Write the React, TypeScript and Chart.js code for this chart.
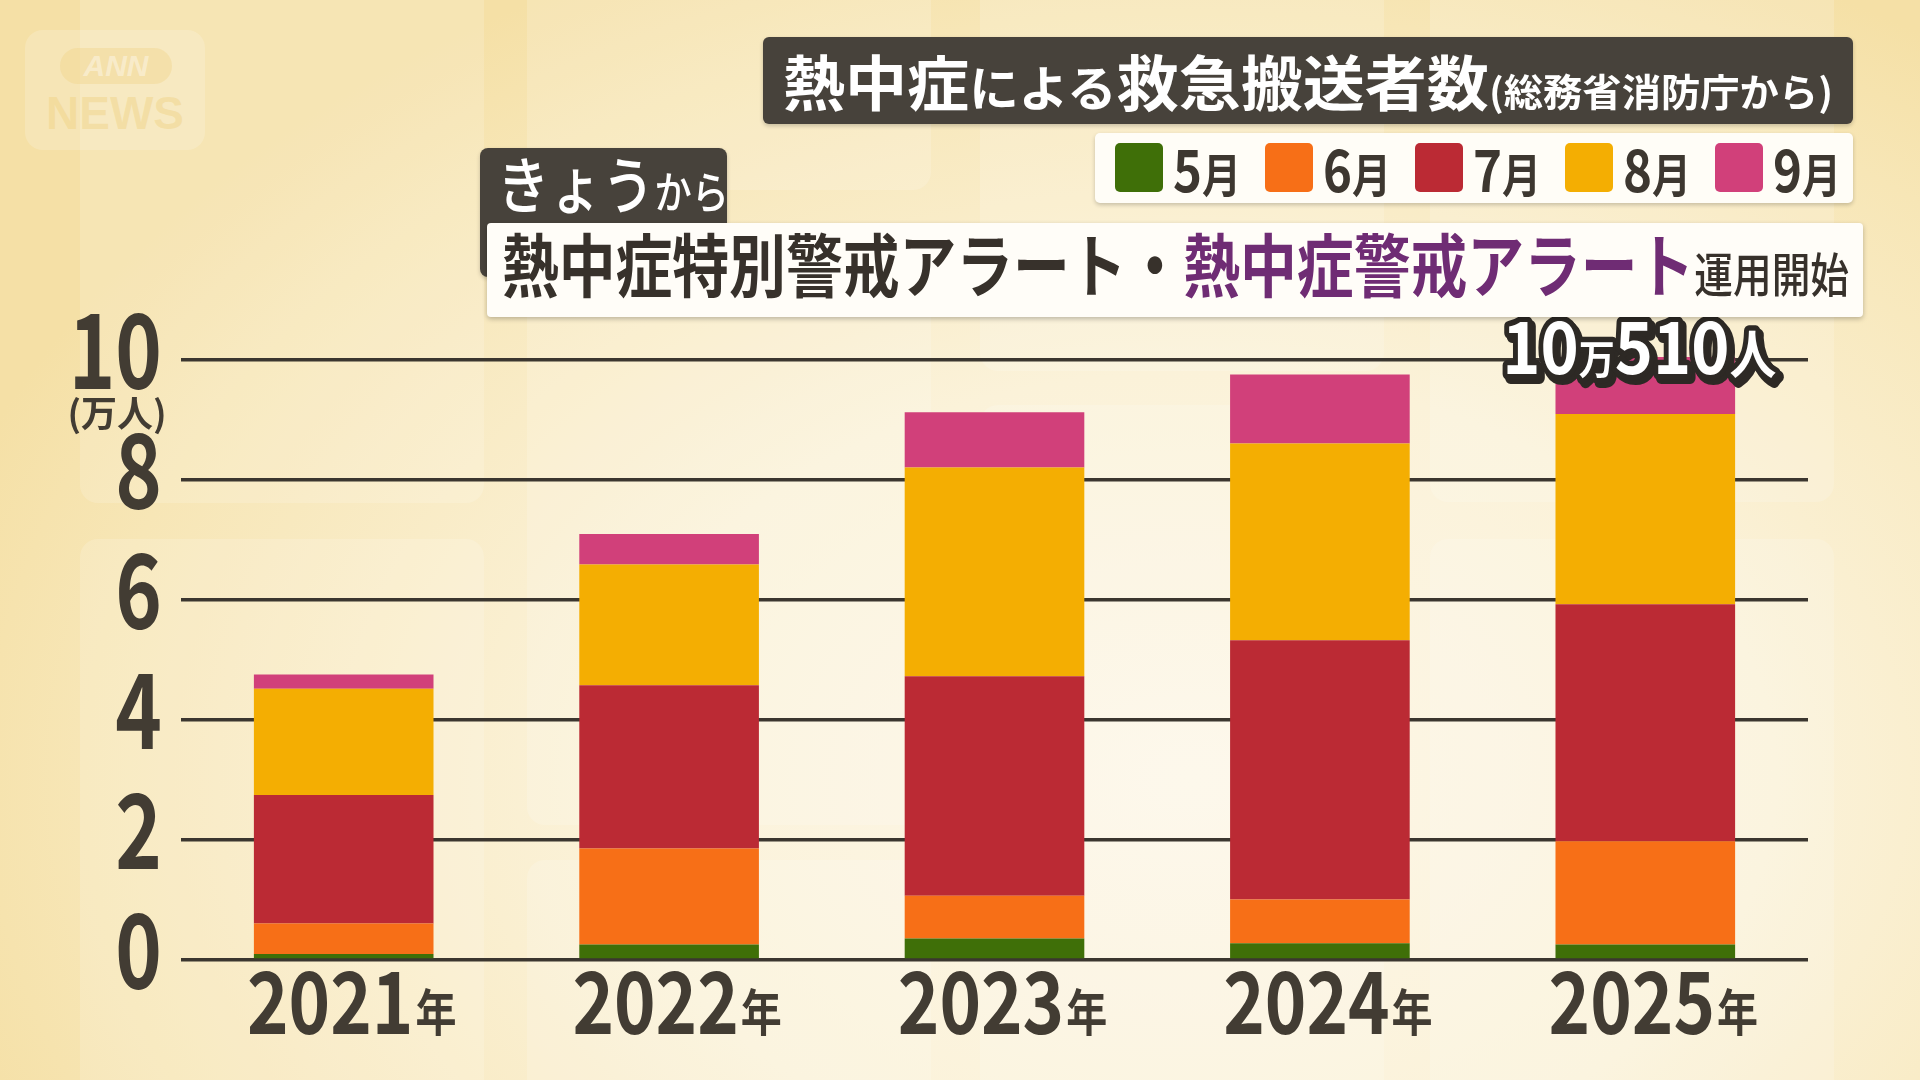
import React, { useEffect, useLayoutEffect, useRef } from "react";
import { Chart, registerables } from "chart.js";

Chart.register(...registerables);

const FONT = '"Noto Sans CJK JP", "Noto Sans", sans-serif';

// ---- data ----
const years = ["2021", "2022", "2023", "2024", "2025"];
const yearSuffix = "年";
const months = ["5月", "6月", "7月", "8月", "9月"];
const monthColors = ["#3f6f08", "#f76f17", "#bb2a34", "#f4ae02", "#d1407a"];
// 万人
const may = [0.1, 0.26, 0.36, 0.28, 0.26];
const june = [0.51, 1.6, 0.71, 0.73, 1.72];
const july = [2.14, 2.72, 3.66, 4.32, 3.95];
const august = [1.77, 2.01, 3.48, 3.28, 3.17];
const september = [0.24, 0.51, 0.92, 1.15, 0.95];
const seriesValues = [may, june, july, august, september];
const yTicks = [0, 2, 4, 6, 8, 10];
const yUnit = "(万人)";
const latestTotalPeople = 100510;

// ---- texts ----
const titleParts: [string, number, number][] = [
  ["熱中症", 60, 700],
  ["による", 48, 700],
  ["救急搬送者数", 60, 700],
  ["(総務省消防庁から)", 38, 700],
];
const tagParts: [string, number][] = [
  ["きょう", 62],
  ["から", 44],
];
const bannerParts: [string, number, string, number][] = [
  ["熱中症特別警戒アラート・", 69, "#37312b", 700],
  ["熱中症警戒アラート", 69, "#6f2c74", 700],
  ["運用開始", 47, "#37312b", 500],
];

const DARK = "#47423b";
const INK = "#423c33";

function drawText(
  ctx: CanvasRenderingContext2D,
  text: string,
  x: number,
  y: number,
  font: string,
  sx: number,
  align: CanvasTextAlign,
  mode: "fill" | "stroke" = "fill"
) {
  ctx.save();
  ctx.font = font;
  ctx.textAlign = align;
  ctx.textBaseline = "alphabetic";
  ctx.translate(x, y);
  ctx.scale(sx, 1);
  if (mode === "fill") ctx.fillText(text, 0, 0);
  else ctx.strokeText(text, 0, 0);
  ctx.restore();
}

const labelPlugin = {
  id: "customLabels",
  afterDraw(chart: any) {
    const ctx: CanvasRenderingContext2D = chart.ctx;
    const xs = chart.scales.x;
    const ys = chart.scales.y;
    ctx.save();
    ctx.fillStyle = INK;
    // y tick labels
    const yFont = `bold 104px ${FONT}`;
    yTicks.forEach((v) => {
      const py = ys.getPixelForValue(v);
      drawText(ctx, String(v), 162, py + 29, yFont, 0.76, "right");
    });
    // unit
    ctx.save();
    ctx.font = `bold 36px ${FONT}`;
    ctx.textAlign = "center";
    ctx.textBaseline = "middle";
    ctx.fillText(yUnit, 117, ys.getPixelForValue(10) + 53);
    ctx.restore();
    // x labels
    const f1 = `bold 86px ${FONT}`;
    const f2 = `bold 50px ${FONT}`;
    const sx = 0.82;
    years.forEach((yr, i) => {
      const cx = xs.getPixelForValue(i) + 8;
      ctx.font = f1;
      const w1 = ctx.measureText(yr).width * sx;
      ctx.font = f2;
      const w2 = ctx.measureText(yearSuffix).width * sx;
      const left = cx - (w1 + w2 + 2) / 2;
      drawText(ctx, yr, left, 1034, f1, sx, "left");
      drawText(ctx, yearSuffix, left + w1 + 2, 1031, f2, sx, "left");
    });
    // total label on latest bar
    const last = years.length - 1;
    const total = seriesValues.reduce((s, arr) => s + arr[last], 0);
    const man = Math.floor(latestTotalPeople / 10000);
    const rest = latestTotalPeople % 10000;
    const parts: [string, string][] = [
      [String(man), `bold 72px ${FONT}`],
      ["万", `bold 40px ${FONT}`],
      [String(rest), `bold 72px ${FONT}`],
      ["人", `bold 52px ${FONT}`],
    ];
    const tsx = 0.9;
    const widths = parts.map(([t, f]) => {
      ctx.font = f;
      return ctx.measureText(t).width * tsx;
    });
    const totalW = widths.reduce((a, b) => a + b, 0);
    const cx = xs.getPixelForValue(last) - 6;
    const base = ys.getPixelForValue(total) + 17;
    ctx.lineJoin = "round";
    const passes: [number, number, "fill" | "stroke", string, number][] = [
      [3, 4, "stroke", "#2d2925", 12],
      [0, 0, "stroke", "#2d2925", 11],
      [0, 0, "fill", "#ffffff", 0],
    ];
    passes.forEach(([dx, dy, mode, color, lw]) => {
      let x = cx - totalW / 2;
      parts.forEach(([t, f], k) => {
        if (mode === "stroke") {
          ctx.strokeStyle = color;
          ctx.lineWidth = lw;
        } else ctx.fillStyle = color;
        drawText(ctx, t, x + dx, base + dy, f, tsx, "left", mode);
        x += widths[k];
      });
    });
    ctx.restore();
  },
};

function Fit({
  width,
  style,
  children,
}: {
  width: number;
  style: React.CSSProperties;
  children: React.ReactNode;
}) {
  const ref = useRef<HTMLDivElement>(null);
  useLayoutEffect(() => {
    const el = ref.current;
    if (!el) return;
    el.style.transform = "none";
    const w = el.getBoundingClientRect().width;
    if (w > 0) el.style.transform = `scaleX(${width / w})`;
  }, [width]);
  return (
    <div
      ref={ref}
      style={{
        position: "absolute",
        display: "flex",
        alignItems: "baseline",
        whiteSpace: "nowrap",
        lineHeight: 1,
        transformOrigin: "left center",
        ...style,
      }}
    >
      {children}
    </div>
  );
}

const panels = [
  [80, -30, 404, 533],
  [80, 539, 404, 600],
  [527, -30, 404, 220],
  [527, 225, 404, 600],
  [527, 860, 404, 300],
  [980, -30, 404, 401],
  [980, 405, 404, 700],
  [1430, -30, 404, 532],
  [1430, 539, 404, 600],
];

export default function App() {
  const canvasRef = useRef<HTMLCanvasElement>(null);

  useEffect(() => {
    document.body.style.margin = "0";
    const canvas = canvasRef.current;
    if (!canvas) return;
    const chart = new Chart(canvas, {
      type: "bar",
      data: {
        labels: years,
        datasets: seriesValues.map((vals, i) => ({
          label: months[i],
          data: vals,
          backgroundColor: monthColors[i],
          borderWidth: 0,
          barPercentage: 0.552,
          categoryPercentage: 1,
          clip: false as any,
        })),
      },
      options: {
        animation: false,
        responsive: false,
        maintainAspectRatio: false,
        devicePixelRatio: 1,
        layout: { padding: { left: 181, right: 112, top: 360, bottom: 120 } },
        plugins: {
          legend: { display: false },
          tooltip: { enabled: false },
          title: { display: false },
        },
        scales: {
          x: {
            stacked: true,
            grid: { display: false, drawTicks: false },
            border: { display: false },
            ticks: { display: false },
          },
          y: {
            stacked: true,
            min: 0,
            max: 10,
            ticks: { display: false, stepSize: 2 },
            grid: { color: "#3b362f", lineWidth: 3.5, drawTicks: false },
            border: { display: false },
          },
        },
      },
      plugins: [labelPlugin],
    });
    return () => chart.destroy();
  }, []);

  return (
    <div
      style={{
        position: "relative",
        width: 1920,
        height: 1080,
        overflow: "hidden",
        fontFamily: FONT,
        background:
          "radial-gradient(ellipse 1300px 900px at 62% 72%, #fdf7e8 0%, #fbf2d9 45%, #f7e6b6 85%, #f5e0a6 100%)",
      }}
    >
      {panels.map(([l, t, w, h], i) => (
        <div
          key={i}
          style={{
            position: "absolute",
            left: l,
            top: t,
            width: w,
            height: h,
            borderRadius: 18,
            background: "rgba(255,255,255,0.16)",
          }}
        />
      ))}
      {/* watermark */}
      <div
        style={{
          position: "absolute",
          left: 25,
          top: 30,
          width: 180,
          height: 120,
          borderRadius: 18,
          background: "rgba(255,255,255,0.18)",
        }}
      >
        <div
          style={{
            position: "absolute",
            left: 35,
            top: 18,
            width: 112,
            height: 36,
            borderRadius: 18,
            background: "rgba(238,205,120,0.3)",
            color: "rgba(255,255,255,0.4)",
            fontFamily: '"Liberation Sans", sans-serif',
            fontWeight: 700,
            fontStyle: "italic",
            fontSize: 30,
            lineHeight: "36px",
            textAlign: "center",
          }}
        >
          ANN
        </div>
        <div
          style={{
            position: "absolute",
            left: 0,
            top: 58,
            width: 180,
            textAlign: "center",
            color: "rgba(238,205,120,0.38)",
            fontFamily: '"Liberation Sans", sans-serif',
            fontWeight: 700,
            fontSize: 46,
            lineHeight: "50px",
          }}
        >
          NEWS
        </div>
      </div>
      <canvas
        ref={canvasRef}
        width={1920}
        height={1080}
        style={{ position: "absolute", left: 0, top: 0, width: 1920, height: 1080 }}
      />
      {/* title */}
      <div
        style={{
          position: "absolute",
          left: 763,
          top: 37,
          width: 1090,
          height: 87,
          borderRadius: 6,
          background: DARK,
          boxShadow: "0 2px 4px rgba(0,0,0,0.2)",
        }}
      />
      <Fit width={1050} style={{ left: 783, top: 50, color: "#ffffff" }}>
        {titleParts.map(([t, s, w], i) => (
          <span key={i} style={{ fontSize: s, fontWeight: w }}>
            {t}
          </span>
        ))}
      </Fit>
      {/* legend */}
      <div
        style={{
          position: "absolute",
          left: 1095,
          top: 133,
          width: 758,
          height: 70,
          borderRadius: 5,
          background: "#fffdf7",
          boxShadow: "0 2px 4px rgba(0,0,0,0.2)",
        }}
      />
      {months.map((m, i) => (
        <React.Fragment key={m}>
          <div
            style={{
              position: "absolute",
              left: 1115 + 150 * i,
              top: 143,
              width: 48,
              height: 49,
              borderRadius: 5,
              background: monthColors[i],
            }}
          />
          <Fit width={68} style={{ left: 1173 + 150 * i, top: 138, color: "#3d3730", fontWeight: 700 }}>
            <span style={{ fontSize: 58 }}>{m.slice(0, -1)}</span>
            <span style={{ fontSize: 46 }}>{m.slice(-1)}</span>
          </Fit>
        </React.Fragment>
      ))}
      {/* tag */}
      <div
        style={{
          position: "absolute",
          left: 480,
          top: 148,
          width: 247,
          height: 129,
          borderRadius: 8,
          background: DARK,
          boxShadow: "0 2px 4px rgba(0,0,0,0.2)",
        }}
      />
      <Fit width={232} style={{ left: 497, top: 151, color: "#ffffff", fontWeight: 500 }}>
        {tagParts.map(([t, s], i) => (
          <span key={i} style={{ fontSize: s }}>
            {t}
          </span>
        ))}
      </Fit>
      {/* banner */}
      <div
        style={{
          position: "absolute",
          left: 487,
          top: 223,
          width: 1376,
          height: 94,
          borderRadius: 4,
          background: "#fffdf8",
          boxShadow: "0 2px 5px rgba(0,0,0,0.25)",
        }}
      />
      <Fit width={1347} style={{ left: 502, top: 228 }}>
        {bannerParts.map(([t, s, c, w], i) => (
          <span key={i} style={{ fontSize: s, color: c, fontWeight: w }}>
            {t}
          </span>
        ))}
      </Fit>
    </div>
  );
}
